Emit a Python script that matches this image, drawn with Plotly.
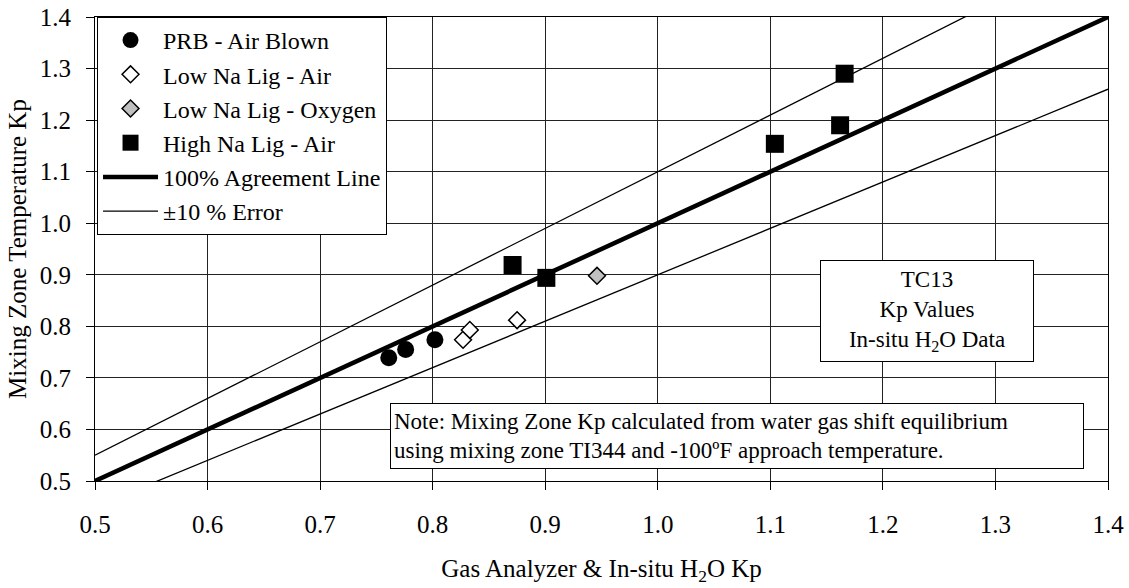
import plotly.graph_objects as go

# Measured Kp values (x: gas analyzer & in-situ H2O, y: mixing zone temperature)
prb_x = [0.761, 0.776, 0.802]
prb_y = [0.739, 0.755, 0.774]

low_na_air_x = [0.827, 0.833, 0.875]
low_na_air_y = [0.774, 0.793, 0.812]

low_na_oxy_x = [0.946]
low_na_oxy_y = [0.898]

high_na_x = [0.871, 0.901, 1.104, 1.162, 1.166]
high_na_y = [0.919, 0.894, 1.154, 1.190, 1.290]

# Reference lines
agree_x = [0.5, 1.4]
agree_y = [0.5, 1.4]
upper_x = [0.5, 1.28]
upper_y = [0.55, 1.408]
lower_x = [0.54, 1.4]
lower_y = [0.486, 1.26]

tick_vals = [0.5, 0.6, 0.7, 0.8, 0.9, 1.0, 1.1, 1.2, 1.3, 1.4]
tick_text = ["0.5", "0.6", "0.7", "0.8", "0.9", "1.0", "1.1", "1.2", "1.3", "1.4"]

FONT = "Liberation Serif, Times New Roman, serif"

fig = go.Figure()

fig.add_trace(go.Scatter(
    x=agree_x, y=agree_y, mode="lines", name="100% Agreement Line",
    line=dict(color="black", width=4.5), legendrank=5))
fig.add_trace(go.Scatter(
    x=upper_x, y=upper_y, mode="lines", name="\u00b110 % Error",
    line=dict(color="black", width=1.3), legendrank=6))
fig.add_trace(go.Scatter(
    x=lower_x, y=lower_y, mode="lines", showlegend=False,
    line=dict(color="black", width=1.3)))

fig.add_trace(go.Scatter(
    x=prb_x, y=prb_y, mode="markers", name="PRB - Air Blown",
    marker=dict(symbol="circle", size=17, color="black"), legendrank=1))
fig.add_trace(go.Scatter(
    x=low_na_air_x, y=low_na_air_y, mode="markers", name="Low Na Lig - Air",
    marker=dict(symbol="diamond", size=13, color="white",
                line=dict(color="black", width=1.5)), legendrank=2))
fig.add_trace(go.Scatter(
    x=low_na_oxy_x, y=low_na_oxy_y, mode="markers", name="Low Na Lig - Oxygen",
    marker=dict(symbol="diamond", size=13, color="#c0c0c0",
                line=dict(color="black", width=1.5)), legendrank=3))
fig.add_trace(go.Scatter(
    x=high_na_x, y=high_na_y, mode="markers", name="High Na Lig - Air",
    marker=dict(symbol="square", size=18, color="black"), legendrank=4))

axis_common = dict(
    range=[0.5, 1.4], tickvals=tick_vals, ticktext=tick_text,
    showgrid=True, gridcolor="#222222", gridwidth=1,
    showline=True, linecolor="black", linewidth=1, mirror=True,
    ticks="outside", ticklen=8, tickcolor="black", tickwidth=1,
    zeroline=False, automargin=False,
    tickfont=dict(family=FONT, size=25, color="black"),
)

fig.update_layout(
    width=1129, height=588,
    margin=dict(l=95, r=21, t=17, b=107),
    paper_bgcolor="white", plot_bgcolor="white",
    font=dict(family=FONT, size=24, color="black"),
    xaxis=dict(**axis_common, ticklabelstandoff=13,
               title=dict(text="Gas Analyzer &amp; In-situ H<sub>2</sub>O Kp",
                          font=dict(family=FONT, size=25), standoff=22)),
    yaxis=dict(**axis_common, ticklabelstandoff=10,
               title=dict(text="Mixing Zone Temperature Kp",
                          font=dict(family=FONT, size=25), standoff=6)),
    legend=dict(
        x=0.002, y=1.0, xanchor="left", yanchor="top",
        bgcolor="white", bordercolor="black", borderwidth=1,
        font=dict(family=FONT, size=24, color="black"),
        itemwidth=55, traceorder="normal",
    ),
    showlegend=True,
)

fig.add_annotation(
    x=1.239, y=0.83, xref="x", yref="y", showarrow=False,
    text="TC13<br>Kp Values<br>In-situ H<sub>2</sub>O Data",
    align="center", width=206, height=94, borderpad=3,
    bgcolor="white", bordercolor="black", borderwidth=1,
    font=dict(family=FONT, size=23, color="black"))

fig.add_annotation(
    x=1.070, y=0.587, xref="x", yref="y", showarrow=False,
    text=("Note: Mixing Zone Kp calculated from water gas shift equilibrium<br>"
          "using mixing zone TI344 and -100\u00baF approach temperature."),
    align="left", width=686, height=58, borderpad=3,
    bgcolor="white", bordercolor="black", borderwidth=1,
    font=dict(family=FONT, size=23, color="black"))

fig.write_html("out.html")
